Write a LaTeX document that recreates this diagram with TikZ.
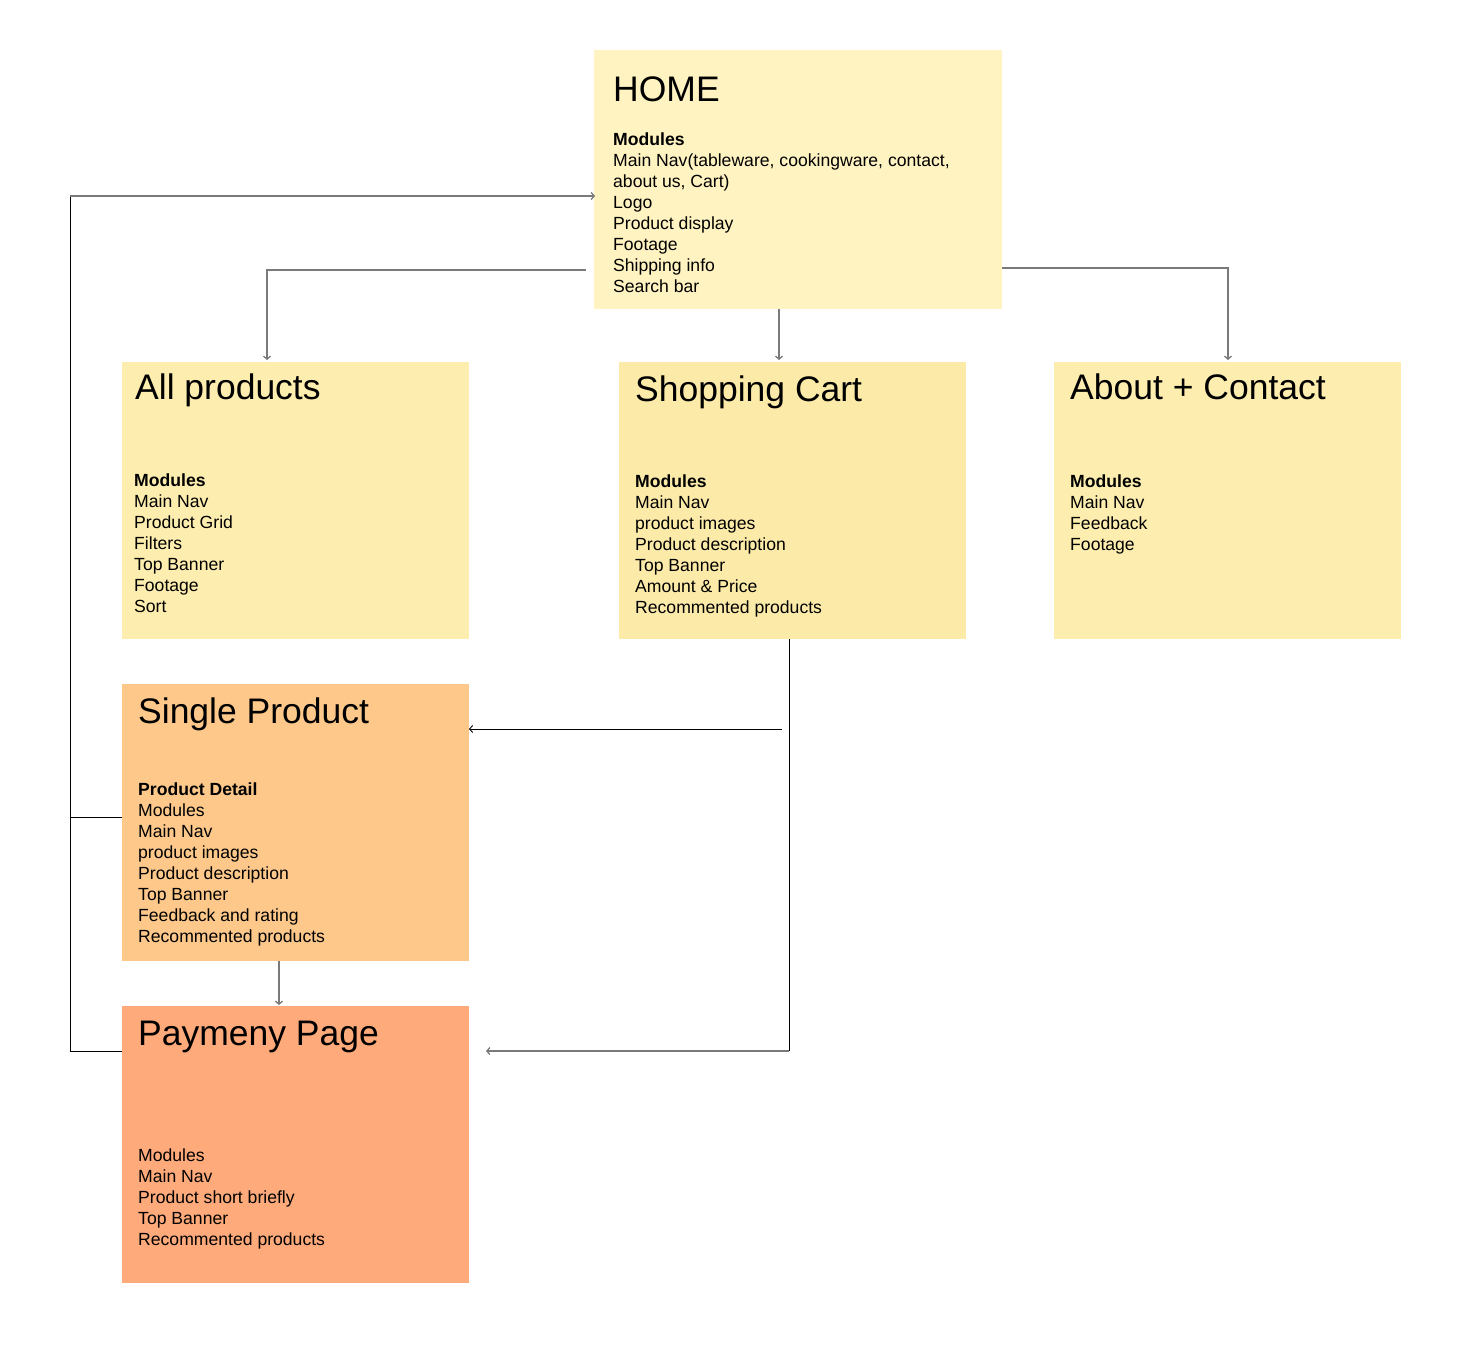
\documentclass[tikz,border=0pt]{standalone}
\usepackage{fontspec}
\setmainfont{Liberation Sans}
\usetikzlibrary{arrows.meta}
\definecolor{homefill}{HTML}{FFF3C1}
\definecolor{pagefill}{HTML}{FDEDAE}
\definecolor{cartfill}{HTML}{FCEBA8}
\definecolor{singlefill}{HTML}{FDC88A}
\definecolor{payfill}{HTML}{FFAA7A}
\definecolor{linegray}{HTML}{7A7A7A}
\tikzset{
  box/.style={draw=none, inner sep=0, outer sep=0},
  ttl/.style={anchor=base west, inner sep=0, font=\fontsize{35.5}{40}\selectfont},
  body/.style={anchor=north west, inner sep=0, align=left, font=\fontsize{17.6}{21}\selectfont},
  tip/.style={-{Straight Barb[length=3pt,width=7pt]}},
  conn/.style={draw=linegray, line width=1.3pt},
  connk/.style={draw=black, line width=0.9pt}
}
\begin{document}
\begin{tikzpicture}[x=1pt,y=-1pt]
\useasboundingbox (0,0) rectangle (1465,1359);
% boxes
\path[fill=homefill] (594,50) rectangle (1002,309);
\node[box, minimum width=408, minimum height=259, anchor=north west] (home) at (594,50) {};
\path[fill=pagefill] (122,362) rectangle (469,639);
\node[box, minimum width=347, minimum height=277, anchor=north west] (allp) at (122,362) {};
\path[fill=cartfill] (619,362) rectangle (966,639);
\node[box, minimum width=347, minimum height=277, anchor=north west] (cart) at (619,362) {};
\path[fill=pagefill] (1054,362) rectangle (1401,639);
\node[box, minimum width=347, minimum height=277, anchor=north west] (about) at (1054,362) {};
\path[fill=singlefill] (122,684) rectangle (469,961);
\node[box, minimum width=347, minimum height=277, anchor=north west] (single) at (122,684) {};
\path[fill=payfill] (122,1006) rectangle (469,1283);
\node[box, minimum width=347, minimum height=277, anchor=north west] (pay) at (122,1006) {};

% titles
\node[ttl] (homeT) at (613,102) {HOME};
\node[ttl] (allpT) at (135,399) {All products};
\node[ttl] (cartT) at (635,401) {Shopping Cart};
\node[ttl] (aboutT) at (1070,399) {About + Contact};
\node[ttl] (singleT) at (138,723) {Single Product};
\node[ttl] (payT) at (138,1045) {Paymeny Page};

% bodies
\node[body] (homeB) at (613,133) {\textbf{Modules}\\Main Nav(tableware, cookingware, contact,\\about us, Cart)\\Logo\\Product display\\Footage\\Shipping info\\Search bar};
\node[body] (allpB) at (134,474) {\textbf{Modules}\\Main Nav\\Product Grid\\Filters\\Top Banner\\Footage\\Sort};
\node[body] (cartB) at (635,475) {\textbf{Modules}\\Main Nav\\product images\\Product description\\Top Banner\\Amount \& Price\\Recommented products};
\node[body] (aboutB) at (1070,475) {\textbf{Modules}\\Main Nav\\Feedback\\Footage};
\node[body] (singleB) at (138,783) {\textbf{Product Detail}\\Modules\\Main Nav\\product images\\Product description\\Top Banner\\Feedback and rating\\Recommented products};
\node[body] (payB) at (138,1149) {Modules\\Main Nav\\Product short briefly\\Top Banner\\Recommented products};

% connectors
\coordinate (hL) at (586,270);
\coordinate (aIn) at (267,360);
\draw[conn, tip] (hL) -| (aIn);
\coordinate (hB) at (779,309);
\coordinate (cIn) at (779,360);
\draw[conn, tip] (hB) -- (cIn);
\coordinate (hR) at (1002,268);
\coordinate (abIn) at (1228,360);
\draw[conn, tip] (hR) -| (abIn);

\coordinate (loopTop) at (70,196);
\coordinate (hIn) at (595,196);
\coordinate (loopBot) at (70,1051);
\coordinate (payL) at (122,1051);
\coordinate (singleL) at (122,817);
\coordinate (loopMid) at (70,817);
\draw[connk] (payL) -- (loopBot) -- (loopTop);
\draw[conn, tip] (loopTop) -- (hIn);
\draw[connk] (singleL) -- (loopMid);

\coordinate (cartB0) at (789,639);
\coordinate (cartCorner) at (789,1051);
\coordinate (payIn) at (486,1051);
\draw[connk] (cartB0) -- (cartCorner);
\draw[conn, tip] (cartCorner) -- (payIn);
\coordinate (branch) at (782,729);
\coordinate (singleIn) at (469,729);
\draw[connk, tip] (branch) -- (singleIn);

\coordinate (sB) at (279,961);
\coordinate (pIn) at (279,1005);
\draw[conn, tip] (sB) -- (pIn);
\end{tikzpicture}
\end{document}
